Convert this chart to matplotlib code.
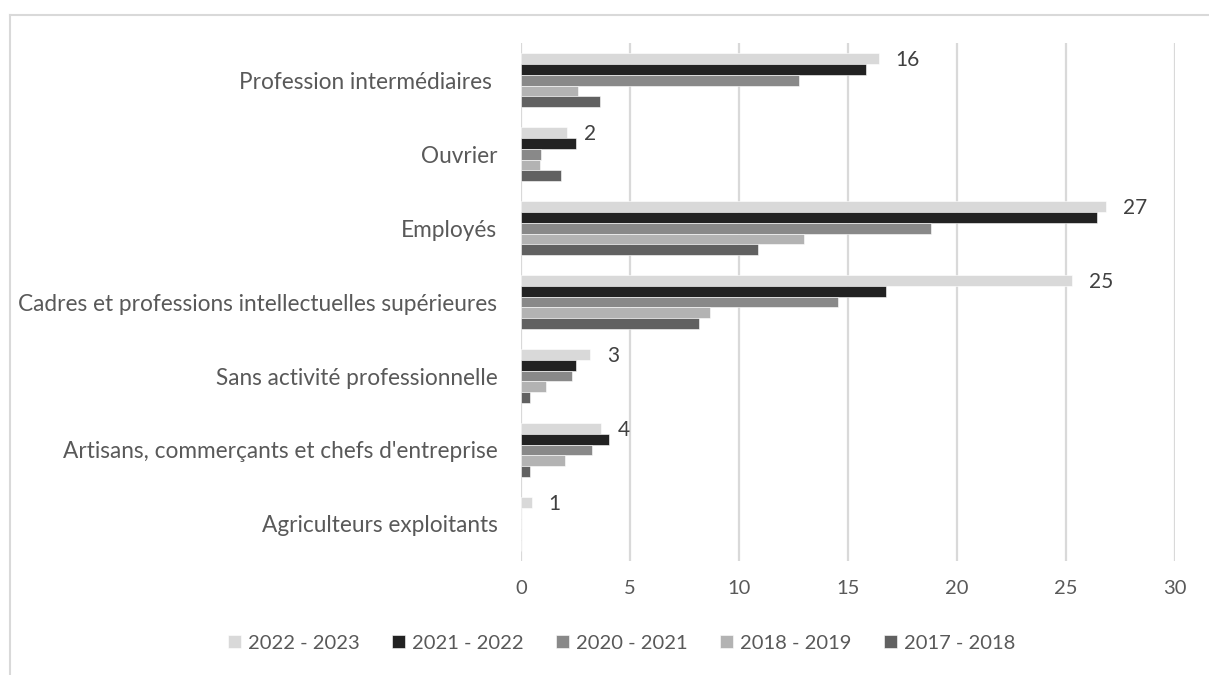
import matplotlib.pyplot as plt
import numpy as np
from matplotlib.lines import Line2D

plt.rcParams['font.family'] = ['Lato', 'DejaVu Sans']

categories = ["Agriculteurs exploitants",
              "Artisans, commerçants et chefs d'entreprise",
              "Sans activité professionnelle",
              "Cadres et professions intellectuelles supérieures",
              "Employés",
              "Ouvrier",
              "Profession intermédiaires "]

series_names = ['2022 - 2023', '2021 - 2022', '2020 - 2021', '2018 - 2019', '2017 - 2018']
v_2022_2023 = [0.5, 3.67, 3.17, 25.27, 26.84, 2.1, 16.4]
v_2021_2022 = [0, 4.05, 2.54, 16.73, 26.4, 2.54, 15.8]
v_2020_2021 = [0, 3.27, 2.34, 14.55, 18.78, 0.92, 12.75]
v_2018_2019 = [0, 2.0, 1.15, 8.65, 12.98, 0.87, 2.6]
v_2017_2018 = [0, 0.43, 0.43, 8.14, 10.88, 1.82, 3.64]
labels_2022_2023 = ['1', '4', '3', '25', '27', '2', '16']

colors = ['#d9d9d9', '#222222', '#898989', '#b3b3b3', '#616161']
all_values = [v_2022_2023, v_2021_2022, v_2020_2021, v_2018_2019, v_2017_2018]

txt = '#595959'
fig = plt.figure(figsize=(12.09, 6.75), dpi=100)
ax = fig.add_axes([0.431, 0.169, 0.541, 0.767])

y = np.arange(len(categories))
h = 0.146
for k, (vals, c, name) in enumerate(zip(all_values, colors, series_names)):
    off = (2 - k) * h
    ax.barh(y + off, vals, height=h, color=c, label=name, edgecolor='white', linewidth=0.4, zorder=3)

for i, lab in enumerate(labels_2022_2023):
    ax.annotate(lab, (v_2022_2023[i], y[i] + 2 * h), xytext=(12, -1), textcoords='offset points',
                ha='left', va='center', fontsize=15, color='#404040')

ax.set_xlim(0, 30)
ax.set_ylim(-0.5, len(categories) - 0.5)
ax.set_xticks(range(0, 31, 5))
ax.set_yticks(y)
ax.set_yticklabels(categories)
ax.tick_params(axis='both', length=0, labelsize=14.5, labelcolor=txt)
ax.tick_params(axis='y', pad=17, labelsize=16.3)
ax.tick_params(axis='x', pad=14)
ax.grid(axis='x', color='#d9d9d9', linewidth=1.6, zorder=0)
for s in ax.spines.values():
    s.set_visible(False)

leg = fig.legend(loc='center', bbox_to_anchor=(0.514, 0.047), ncol=5, frameon=False,
                 fontsize=14.5, handlelength=0.65, handleheight=0.65, handletextpad=0.35,
                 columnspacing=1.6, labelcolor=txt)

# chart frame
fig.add_artist(Line2D([10 / 1209, 10 / 1209], [0, 1 - 15 / 675], transform=fig.transFigure,
                      color='#d9d9d9', linewidth=1.5))
fig.add_artist(Line2D([10 / 1209, 1], [1 - 15 / 675, 1 - 15 / 675], transform=fig.transFigure,
                      color='#d9d9d9', linewidth=1.5))

plt.savefig('out.png', dpi=100, facecolor='w')
